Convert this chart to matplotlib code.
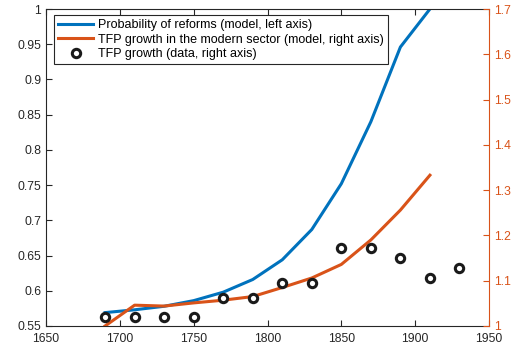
import matplotlib
matplotlib.use("Agg")
import matplotlib.pyplot as plt
import numpy as np

plt.rcParams['font.family'] = ['Liberation Sans', 'DejaVu Sans']

years_model = [1690, 1710, 1730, 1750, 1770, 1790, 1810, 1830, 1850, 1870, 1890, 1910]
prob_reforms = [0.569, 0.573, 0.578, 0.586, 0.598, 0.616, 0.644, 0.687, 0.752, 0.840, 0.946, 1.000]
tfp_model = [1.000, 1.046, 1.044, 1.051, 1.057, 1.065, 1.085, 1.106, 1.136, 1.190, 1.256, 1.333]

years_data = [1690, 1710, 1730, 1750, 1770, 1790, 1810, 1830, 1850, 1870, 1890, 1910, 1930]
tfp_data = [1.020, 1.020, 1.020, 1.020, 1.062, 1.062, 1.094, 1.094, 1.173, 1.173, 1.151, 1.105, 1.127]

left_ticks = [0.55, 0.6, 0.65, 0.7, 0.75, 0.8, 0.85, 0.9, 0.95, 1.0]
left_labels = ['0.55', '0.6', '0.65', '0.7', '0.75', '0.8', '0.85', '0.9', '0.95', '1']
right_ticks = [1.0, 1.1, 1.2, 1.3, 1.4, 1.5, 1.6, 1.7]
right_labels = ['1', '1.1', '1.2', '1.3', '1.4', '1.5', '1.6', '1.7']
x_ticks = [1650, 1700, 1750, 1800, 1850, 1900, 1950]

BLUE = '#0072BD'
ORANGE = '#D95319'
DARK = '#262626'

fig = plt.figure(figsize=(5.16, 3.49), dpi=100)
ax = fig.add_axes([46/516, 23/349, (489-46)/516, (326-9)/349])
ax2 = ax.twinx()

l1, = ax.plot(years_model, prob_reforms, color=BLUE, lw=2.2)
l2, = ax2.plot(years_model, tfp_model, color=ORANGE, lw=2.2)
l3, = ax2.plot(years_data, tfp_data, 'o', mfc='white', mec='#1a1a1a', ms=6, mew=2.2, ls='none')

ax.set_xlim(1650, 1950)
ax.set_ylim(0.55, 1.0)
ax2.set_ylim(1.0, 1.7)
ax.set_xticks(x_ticks)
ax.set_xticklabels([str(x) for x in x_ticks])
ax.set_yticks(left_ticks)
ax.set_yticklabels(left_labels)
ax2.set_yticks(right_ticks)
ax2.set_yticklabels(right_labels)

fs = 8.7
ax.tick_params(axis='both', direction='in', length=4, width=0.8, colors=DARK, labelsize=fs, top=True)
ax.tick_params(axis='x', pad=5)
ax2.tick_params(axis='y', direction='in', length=4, width=0.8, colors=ORANGE, labelsize=fs)

for s in ['left', 'bottom', 'top']:
    ax.spines[s].set_color(DARK)
    ax.spines[s].set_linewidth(0.8)
ax.spines['right'].set_visible(False)
ax2.spines['right'].set_color(ORANGE)
ax2.spines['right'].set_linewidth(0.8)
for s in ['left', 'bottom', 'top']:
    ax2.spines[s].set_visible(False)

leg = ax2.legend([l1, l2, l3],
                 ['Probability of reforms (model, left axis)',
                  'TFP growth in the modern sector (model, right axis)',
                  'TFP growth (data, right axis)'],
                 loc='upper left', bbox_to_anchor=(0.0135, 0.988), fontsize=9,
                 frameon=True, fancybox=False, edgecolor=DARK, framealpha=1,
                 handlelength=2.8, borderpad=0.3, labelspacing=0.2, handletextpad=0.4,
                 borderaxespad=0.2)
leg.get_frame().set_linewidth(0.8)

fig.savefig('out.png', dpi=100)
